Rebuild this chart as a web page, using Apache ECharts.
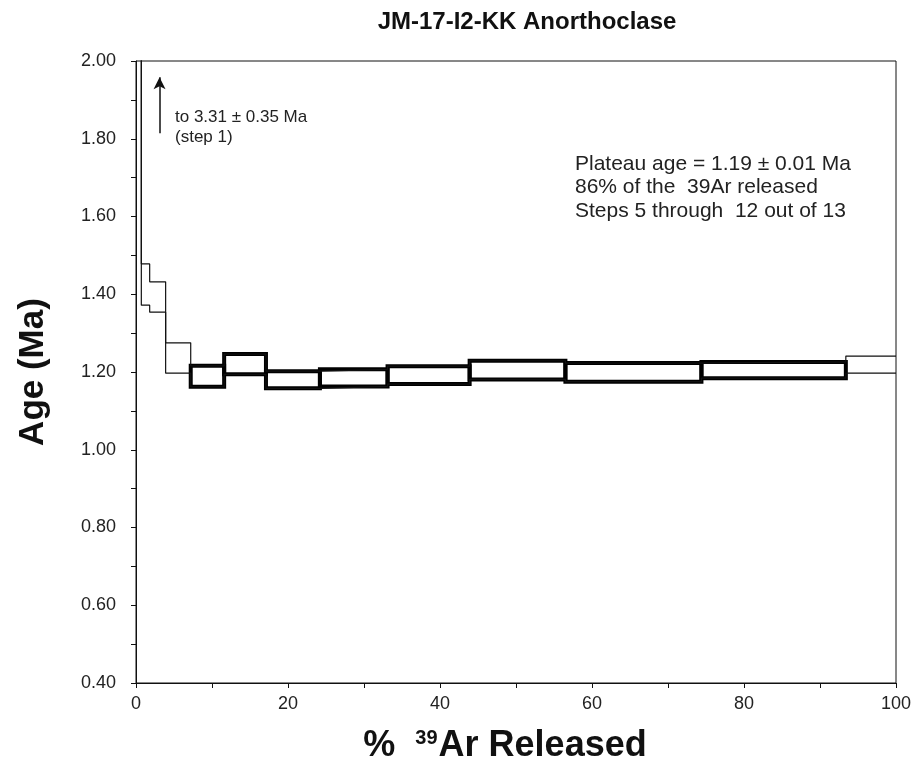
<!DOCTYPE html>
<html>
<head>
<meta charset="utf-8">
<script src="https://cdn.jsdelivr.net/npm/echarts@6/dist/echarts.min.js"></script>
<style>
html,body{margin:0;padding:0;background:#fff;}
#chart{width:920px;height:777px;}
</style>
</head>
<body>
<div id="chart"></div>
<script>
// Cumulative % 39Ar released at the end of each heating step
const stepEnd = [0.7, 1.8, 3.9, 7.2, 11.6, 17.1, 24.2, 33.1, 43.9, 56.5, 74.4, 93.4, 100];
// Apparent age (Ma) of each step
const stepAge = [3.31, 1.425, 1.393, 1.236, 1.189, 1.220, 1.180, 1.185, 1.192, 1.205, 1.199, 1.205, 1.219];
// 1-sigma error (Ma) of each step
const stepErr = [0.35, 0.053, 0.039, 0.039, 0.027, 0.026, 0.022, 0.022, 0.023, 0.024, 0.024, 0.021, 0.022];
// Plateau steps (1-based)
const plateauFirst = 5;
const plateauLast = 12;
// Axes
const xTicks = [0, 20, 40, 60, 80, 100];
const yTicks = [0.40, 0.60, 0.80, 1.00, 1.20, 1.40, 1.60, 1.80, 2.00];

const FONT = '"Liberation Sans", Arial, sans-serif';

const upper = [[0, stepAge[0] + stepErr[0]]].concat(stepEnd.map((x, i) => [x, stepAge[i] + stepErr[i]]));
const lower = [[0, stepAge[0] - stepErr[0]]].concat(stepEnd.map((x, i) => [x, stepAge[i] - stepErr[i]]));

const plateau = [];
for (let s = plateauFirst; s <= plateauLast; s++) {
  const i = s - 1;
  const start = i === 0 ? 0 : stepEnd[i - 1];
  plateau.push([start, stepEnd[i], stepAge[i] - stepErr[i], stepAge[i] + stepErr[i]]);
}

const chart = echarts.init(document.getElementById('chart'), null, {renderer: 'canvas'});
chart.setOption({
  backgroundColor: '#fff',
  animation: false,
  title: {
    text: 'JM-17-I2-KK Anorthoclase',
    left: 522, top: 5, textAlign: 'center',
    textStyle: {fontFamily: FONT, fontWeight: 'bold', fontSize: 24, color: '#111'}
  },
  grid: {left: 136, right: 24, top: 61, bottom: 94, show: true, borderColor: '#111', borderWidth: 1},
  xAxis: {
    type: 'value', min: xTicks[0], max: xTicks[xTicks.length - 1], interval: 20,
    name: '%  {sup|39}Ar Released',
    nameLocation: 'middle', nameGap: 45,
    nameTextStyle: {
      fontFamily: FONT, fontWeight: 'bold', fontSize: 36, color: '#111', padding: [0, 22, 0, 0],
      rich: {sup: {fontFamily: FONT, fontWeight: 'bold', fontSize: 20, color: '#111', verticalAlign: 'top', padding: [0, 1, 14, 0]}}
    },
    axisLine: {lineStyle: {color: '#111', width: 1}},
    axisTick: {show: true, length: 5, lineStyle: {color: '#111'}},
    minorTick: {show: true, splitNumber: 2, length: 5, lineStyle: {color: '#111'}},
    splitLine: {show: false},
    axisLabel: {fontFamily: FONT, fontSize: 18, color: '#222', margin: 12}
  },
  yAxis: {
    type: 'value', min: yTicks[0], max: yTicks[yTicks.length - 1], interval: 0.2,
    name: 'Age (Ma)',
    nameLocation: 'middle', nameGap: 85, nameRotate: 90,
    nameTextStyle: {fontFamily: FONT, fontWeight: 'bold', fontSize: 35, color: '#111'},
    axisLine: {show: true, lineStyle: {color: '#111', width: 1}},
    axisTick: {show: true, length: 5, lineStyle: {color: '#111'}},
    minorTick: {show: true, splitNumber: 2, length: 5, lineStyle: {color: '#111'}},
    splitLine: {show: false},
    axisLabel: {fontFamily: FONT, fontSize: 18, color: '#222', margin: 20, formatter: v => v.toFixed(2)}
  },
  series: [
    {
      type: 'line', data: upper, step: 'start', symbol: 'none', clip: true,
      lineStyle: {color: '#111', width: 1.2}
    },
    {
      type: 'line', data: lower, step: 'start', symbol: 'none', clip: true,
      lineStyle: {color: '#111', width: 1.2},
      markLine: {
        silent: true, animation: false,
        symbol: ['none', 'arrow'], symbolSize: [9, 12],
        lineStyle: {color: '#111', width: 1.5, type: 'solid'},
        label: {show: false},
        data: [[{coord: [3.1, 1.814]}, {coord: [3.1, 1.958]}]]
      }
    },
    {
      type: 'custom', data: plateau, clip: true,
      encode: {x: [0, 1], y: [2, 3]},
      renderItem: function (params, api) {
        const p1 = api.coord([api.value(0), api.value(3)]);
        const p2 = api.coord([api.value(1), api.value(2)]);
        return {
          type: 'rect',
          shape: {x: p1[0], y: p1[1], width: p2[0] - p1[0], height: p2[1] - p1[1]},
          style: {fill: 'none', stroke: '#000', lineWidth: 4, lineJoin: 'miter'}
        };
      }
    }
  ],
  graphic: [
    {type: 'text', left: 175, top: 107, style: {text: 'to 3.31 \u00b1 0.35 Ma\n(step 1)', fontFamily: FONT, fontSize: 17, lineHeight: 20, fill: '#222'}},
    {type: 'text', left: 575, top: 152, style: {text: 'Plateau age = 1.19 \u00b1 0.01 Ma\n86% of the  39Ar released\nSteps 5 through  12 out of 13', fontFamily: FONT, fontSize: 21, lineHeight: 23.5, fill: '#222'}}
  ]
});
</script>
</body>
</html>
